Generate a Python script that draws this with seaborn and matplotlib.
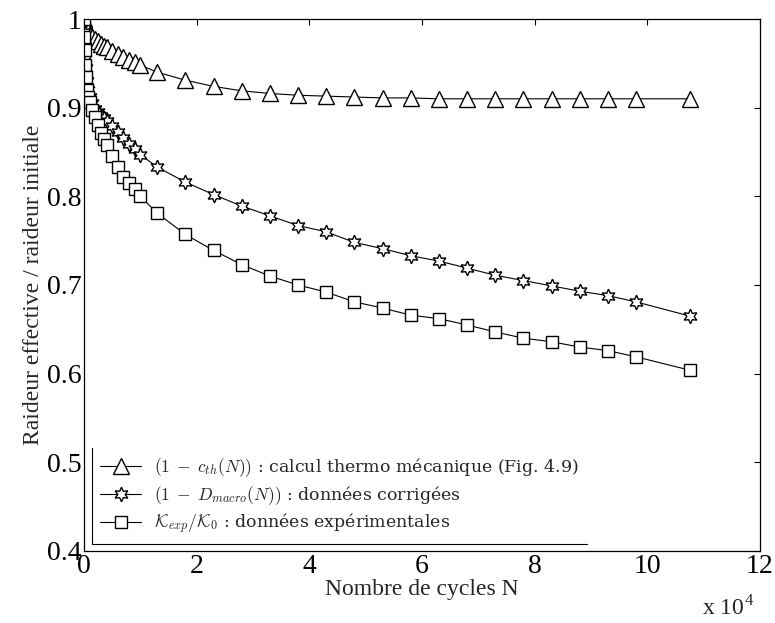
import seaborn as sns
import pandas as pd
import matplotlib.pyplot as plt

# Cycles (units of 1e4)
N = [0, 0.005, 0.01, 0.02, 0.03, 0.05, 0.07, 0.1, 0.15, 0.2, 0.25, 0.3, 0.35, 0.4,
     0.5, 0.6, 0.7, 0.8, 0.9, 1.0,
     1.3, 1.8, 2.3, 2.8, 3.3, 3.8, 4.3, 4.8, 5.3, 5.8, 6.3, 6.8, 7.3, 7.8, 8.3,
     8.8, 9.3, 9.8, 10.75]

# (1 - c_th(N)) : thermo-mechanical computation
c_th = [1.0, 0.998, 0.996, 0.993, 0.991, 0.988, 0.986, 0.983, 0.980, 0.977, 0.975,
        0.972, 0.970, 0.968, 0.964, 0.960, 0.957, 0.954, 0.951, 0.948,
        0.940, 0.931, 0.924, 0.919, 0.916, 0.914, 0.913, 0.912, 0.911, 0.911,
        0.910, 0.910, 0.910, 0.910, 0.910, 0.910, 0.910, 0.910, 0.910]

# (1 - D_macro(N)) : corrected data
d_macro = [1.0, 0.985, 0.970, 0.955, 0.945, 0.930, 0.920, 0.912, 0.905, 0.899, 0.895,
           0.891, 0.888, 0.885, 0.879, 0.873, 0.866, 0.859, 0.853, 0.847,
           0.833, 0.816, 0.802, 0.789, 0.778, 0.767, 0.760, 0.748, 0.741, 0.733,
           0.727, 0.719, 0.711, 0.705, 0.699, 0.693, 0.688, 0.681, 0.665]

# K_exp / K_0 : experimental data
k_exp = [1.0, 0.980, 0.965, 0.948, 0.935, 0.920, 0.912, 0.906, 0.897, 0.890, 0.880,
         0.871, 0.865, 0.858, 0.845, 0.833, 0.822, 0.815, 0.808, 0.800,
         0.781, 0.757, 0.739, 0.723, 0.710, 0.700, 0.692, 0.681, 0.674, 0.666,
         0.662, 0.655, 0.647, 0.640, 0.636, 0.630, 0.626, 0.619, 0.604]

labels = [
    r"$(1\;-\;c_{th}(N))$ : calcul thermo mécanique (Fig. 4.9)",
    r"$(1\;-\;D_{macro}(N))$ : données corrigées",
    r"$\mathcal{K}_{exp}/\mathcal{K}_0$ : données expérimentales",
]
x_ticks = [0, 2, 4, 6, 8, 10, 12]
y_ticks = [0.4, 0.5, 0.6, 0.7, 0.8, 0.9, 1.0]
y_ticklabels = ["0.4", "0.5", "0.6", "0.7", "0.8", "0.9", "1"]

sns.set_style("white")
plt.rcParams["font.family"] = ["Liberation Serif", "DejaVu Serif"]
plt.rcParams["mathtext.fontset"] = "cm"

fig = plt.figure(figsize=(7.75, 6.23), dpi=100)
ax = fig.add_axes([0.1084, 0.1156, 0.8722, 0.8539])

styles = [("^", 11), ((6, 1, 0), 10.5), ("s", 8.5)]
for vals, lab, (mk, ms) in zip([c_th, d_macro, k_exp], labels, styles):
    df = pd.DataFrame({"N": N, "val": vals})
    sns.lineplot(data=df, x="N", y="val", ax=ax, color="black", linewidth=0.8,
                 marker=mk, markersize=ms, markerfacecolor="white",
                 markeredgecolor="black", markeredgewidth=1.0, label=lab)

ax.set_xlim(0, 12)
ax.set_ylim(0.4, 1.0)
ax.set_xticks(x_ticks)
ax.set_yticks(y_ticks)
ax.set_yticklabels(y_ticklabels)
ax.tick_params(direction="in", length=4.5, width=0.8, labelsize=20, pad=2,
               top=True, right=True, colors="black")
for s in ax.spines.values():
    s.set_color("black")
    s.set_linewidth(0.9)

ax.set_xlabel("Nombre de cycles N", fontsize=17, labelpad=0)
ax.set_ylabel("Raideur effective / raideur initiale", fontsize=17, labelpad=2)
fig.text(0.906, 0.014, r"x 10$^{\mathregular{4}}$", fontsize=17)

leg = ax.legend(loc="lower left", bbox_to_anchor=(0.0118, 0.0132), borderaxespad=0,
                frameon=False, prop={"family": "DejaVu Serif", "size": 12.5},
                handlelength=2.4, handletextpad=0.75, labelspacing=0.3,
                borderpad=0.45)

# legend box: only left and bottom edges, as in the original
fig.canvas.draw()
bb = leg.get_window_extent().transformed(ax.transAxes.inverted())
ax.plot([bb.x0, bb.x0, bb.x1], [bb.y1, bb.y0, bb.y0], transform=ax.transAxes,
        color="black", linewidth=0.8, clip_on=False)

plt.savefig("out.png", dpi=100)
